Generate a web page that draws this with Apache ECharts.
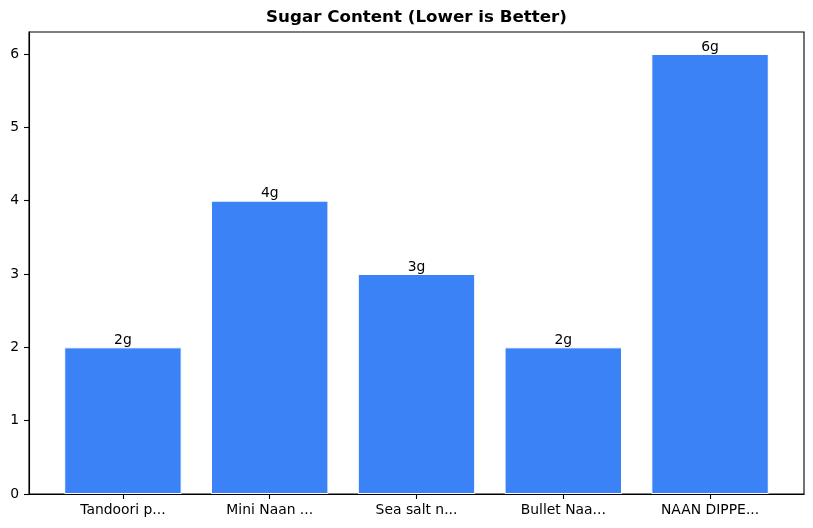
<!DOCTYPE html>
<html>
<head>
<meta charset="utf-8">
<script src="https://cdn.jsdelivr.net/npm/echarts@6/dist/echarts.min.js"></script>
<style>
html,body{margin:0;padding:0;background:#fff;}
#chart{width:813px;height:528px;}
</style>
</head>
<body>
<div id="chart"></div>
<script>
const categories = ['Tandoori p...', 'Mini Naan ...', 'Sea salt n...', 'Bullet Naa...', 'NAAN DIPPE...'];
const sugarValues = [2, 4, 3, 2, 6];
const yTicks = [0, 1, 2, 3, 4, 5, 6];
const titleText = 'Sugar Content (Lower is Better)';

const FONT = 'DejaVu Sans';
const positions = categories.map((c, i) => i);
const barData = sugarValues.map((v, i) => [i, v]);

const chart = echarts.init(document.getElementById('chart'), null, {renderer: 'canvas'});
chart.setOption({
  animation: false,
  backgroundColor: '#fff',
  title: {
    text: titleText,
    left: 416.5,
    textAlign: 'center',
    top: 9,
    padding: 0,
    textStyle: {fontFamily: FONT, fontSize: 16.7, fontWeight: 'bold', color: '#000'}
  },
  grid: {
    left: 29, right: 9, top: 32, bottom: 34,
    show: true, borderColor: '#000', borderWidth: 1.1, backgroundColor: 'transparent'
  },
  xAxis: {
    type: 'value',
    min: -0.64,
    max: 4.64,
    splitLine: {show: false},
    axisLine: {show: true, onZero: false, lineStyle: {color: '#000', width: 1.1}},
    axisTick: {show: true, customValues: positions, length: 5, lineStyle: {color: '#000', width: 1.1}},
    axisLabel: {
      show: true, customValues: positions, margin: 9,
      fontFamily: FONT, fontSize: 13.9, color: '#000',
      formatter: v => categories[Math.round(v)] ?? ''
    }
  },
  yAxis: {
    type: 'value',
    min: 0,
    max: 6.3,
    splitLine: {show: false},
    axisLine: {show: true, onZero: false, lineStyle: {color: '#000', width: 1.1}},
    axisTick: {show: true, customValues: yTicks, length: 5, lineStyle: {color: '#000', width: 1.1}},
    axisLabel: {
      show: true, customValues: yTicks, margin: 10,
      fontFamily: FONT, fontSize: 13.9, color: '#000'
    }
  },
  series: [{
    type: 'bar',
    data: barData,
    barWidth: '80%',
    itemStyle: {color: '#3b82f6', borderColor: '#ffffff', borderWidth: 1},
    label: {
      show: true, position: 'top', distance: 0,
      fontFamily: FONT, fontSize: 13.9, color: '#000',
      formatter: p => p.value[1] + 'g'
    }
  }]
});
</script>
</body>
</html>
